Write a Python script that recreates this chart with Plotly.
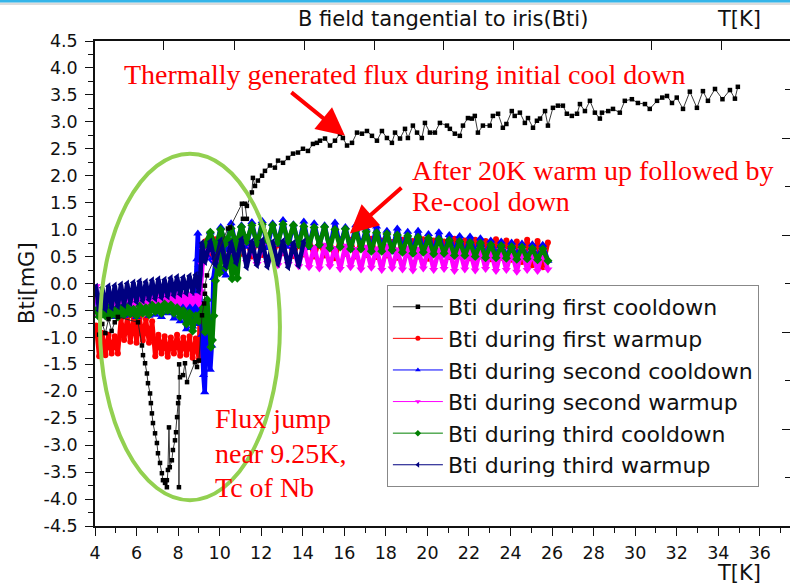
import plotly.graph_objects as go

# ---------------------------------------------------------------
# Temperature grids used by the dense bands (K)
# ---------------------------------------------------------------
T_lo = [4.05, 4.2, 4.35, 4.5, 4.65, 4.8, 4.95, 5.1, 5.25, 5.4,
        5.55, 5.7, 5.85, 6.0, 6.15, 6.3, 6.45, 6.6, 6.75, 6.9,
        7.05, 7.2, 7.35, 7.5, 7.65, 7.8, 7.95, 8.1, 8.25, 8.4,
        8.55, 8.7, 8.85, 9.0]

T_hi = [9.3, 9.55, 9.8, 10.05, 10.3, 10.55, 10.8, 11.05, 11.3, 11.55,
        11.8, 12.05, 12.3, 12.55, 12.8, 13.05, 13.3, 13.55, 13.8, 14.05,
        14.3, 14.55, 14.8, 15.05, 15.3, 15.55, 15.8, 16.05, 16.3, 16.55,
        16.8, 17.05, 17.3, 17.55, 17.8, 18.05, 18.3, 18.55, 18.8, 19.05,
        19.3, 19.55, 19.8, 20.05, 20.3, 20.55, 20.8, 21.05, 21.3, 21.55,
        21.8, 22.05, 22.3, 22.55, 22.8, 23.05, 23.3, 23.55, 23.8, 24.05,
        24.3, 24.55, 24.8, 25.05, 25.3, 25.55, 25.8]

# ---------------------------------------------------------------
# Bti during first cooldown (T decreasing), mG
# ---------------------------------------------------------------
T_cd1 = [34.94, 34.8, 34.56, 34.2, 33.84, 33.5, 33.26, 32.97, 32.63, 32.3,
         32.0, 31.77, 31.53, 31.3, 31.05, 30.7, 30.47, 30.13, 29.84, 29.5,
         29.26, 28.93, 28.7, 28.4, 28.3, 28.06, 27.82, 27.58, 27.34, 27.2,
         26.95, 26.71, 26.52, 26.28, 26.04, 25.8, 25.66, 25.42, 25.27, 25.08,
         24.84, 24.69, 24.45, 24.2, 24.06, 23.8, 23.63, 23.4, 23.15, 23.0,
         22.67, 22.43, 22.28, 22.14, 21.95, 21.71, 21.56, 21.32, 21.08, 20.94,
         20.6, 20.36, 20.12, 19.88, 19.73, 19.5, 19.3, 19.06, 18.92, 18.68,
         18.44, 18.29, 18.05, 17.81, 17.57, 17.33, 17.09, 16.85, 16.61, 16.37,
         16.13, 15.93, 15.79, 15.55, 15.31, 15.07, 14.83, 14.68, 14.49, 14.25,
         14.01, 13.77, 13.53, 13.29, 13.05, 12.81, 12.66, 12.42, 12.18, 12.04,
         11.84, 11.7, 11.6, 11.55, 11.31, 11.22, 11.31, 11.12, 11.07, 10.5,
         10.4, 9.39, 9.29, 9.29, 9.25, 9.15, 9.0, 8.91, 8.81, 8.43,
         8.33, 8.24, 8.09, 8.05, 8.04, 8.04, 8.0, 7.95, 7.9, 7.85,
         7.75, 7.7, 7.6, 7.56, 7.51, 7.46, 7.46, 7.37, 7.27, 7.22,
         7.13, 7.03, 6.98, 6.89, 6.79, 6.74, 6.69, 6.65, 6.55, 6.5,
         6.41, 6.31, 6.26, 6.07, 5.1, 4.95, 4.8, 4.65, 4.5, 4.35,
         4.2]
B_cd1 = [3.65, 3.43, 3.59, 3.42, 3.61, 3.39, 3.57, 3.26, 3.56, 3.24,
         3.45, 3.35, 3.48, 3.45, 3.39, 3.24, 3.33, 3.35, 3.42, 3.39,
         3.17, 3.24, 3.20, 3.17, 3.06, 3.17, 3.39, 3.20, 3.33, 3.15,
         3.11, 3.15, 3.30, 3.30, 3.26, 2.93, 3.20, 3.06, 3.02, 2.89,
         3.07, 2.98, 3.17, 3.11, 3.20, 2.96, 2.89, 3.15, 3.11, 2.93,
         2.93, 2.80, 3.11, 3.06, 3.07, 2.93, 2.74, 2.78, 2.87, 2.93,
         2.98, 2.80, 2.80, 2.98, 2.70, 2.80, 2.93, 2.70, 2.87, 2.69,
         2.80, 2.61, 2.70, 2.83, 2.65, 2.74, 2.83, 2.78, 2.80, 2.61,
         2.56, 2.70, 2.78, 2.65, 2.56, 2.69, 2.65, 2.61, 2.59, 2.46,
         2.50, 2.43, 2.41, 2.33, 2.24, 2.28, 2.15, 2.19, 2.09, 2.00,
         1.91, 1.81, 1.96, 1.69, 1.44, 1.48, 1.20, 1.20, 1.48, 1.04,
         1.02, 0.15, -0.04, -0.19, -0.37, -0.59, -1.43, -1.55, -1.46, -1.83,
         -1.48, -1.70, -1.74, -1.50, -3.78, -2.11, -2.22, -2.48, -2.76, -2.91,
         -3.09, -3.28, -3.41, -2.67, -3.46, -3.65, -3.78, -3.70, -3.65, -3.52,
         -3.33, -3.15, -2.96, -2.78, -2.59, -2.41, -2.22, -2.04, -1.85, -1.67,
         -1.48, -1.33, -1.15, -0.72, -0.62, -0.72, -0.88, -0.66, -0.92, -0.75,
         -0.95]

# ---------------------------------------------------------------
# Bti during first warmup (on T_lo / T_hi)
# ---------------------------------------------------------------
B_wu1_lo = [-0.78, -1.35, -0.92, -1.33, -0.95, -1.30, -0.98, -1.30, -0.65, -1.05,
            -0.63, -1.08, -0.62, -1.10, -0.64, -1.06, -0.66, -1.10, -0.70, -1.35,
            -0.95, -1.30, -0.98, -1.36, -1.00, -1.30, -0.95, -1.34, -1.00, -1.32,
            -0.98, -1.38, -1.02, -1.42]
T_wu1_jump = [9.1]
B_wu1_jump = [0.70]
B_wu1_hi = [0.78, 0.50, 0.82, 0.52, 0.80, 0.48, 0.83, 0.55, 0.79, 0.50,
            0.81, 0.53, 0.84, 0.49, 0.80, 0.56, 0.82, 0.51, 0.78, 0.54,
            0.83, 0.50, 0.80, 0.52, 0.79, 0.47, 0.82, 0.55, 0.81, 0.50,
            0.78, 0.53, 0.83, 0.49, 0.80, 0.52, 0.77, 0.48, 0.81, 0.54,
            0.79, 0.50, 0.82, 0.46, 0.80, 0.51, 0.78, 0.49, 0.83, 0.52,
            0.80, 0.47, 0.81, 0.50, 0.79, 0.45, 0.82, 0.48, 0.80, 0.44,
            0.78, 0.40, 0.81, 0.34, 0.79, 0.30, 0.76]

# ---------------------------------------------------------------
# Bti during second cooldown
# ---------------------------------------------------------------
B_cd2_lo = [-0.20, -0.60, -0.25, -0.58, -0.22, -0.62, -0.28, -0.55, -0.25, -0.60,
            -0.22, -0.58, -0.20, -0.62, -0.18, -0.55, -0.20, -0.60, -0.15, -0.58,
            -0.18, -0.62, -0.12, -0.55, -0.15, -0.65, -0.10, -0.70, -0.25, -0.85,
            -0.30, -0.80, -0.20, -0.75]
T_cd2_jump = [10.3, 10.15, 10.0, 9.85, 9.7, 9.62, 9.55, 9.48, 9.4, 9.33,
              9.28, 9.22, 9.15, 9.08, 9.0, 8.95, 8.9, 8.85]
B_cd2_jump = [0.15, 0.25, 0.20, 0.55, 0.10, -1.15, -1.60, -1.05, -0.30, -1.45,
              -2.02, -1.70, -0.95, -0.60, 0.35, 0.93, 0.45, -0.05]
B_cd2_hi = [0.55, 0.95, 0.60, 1.05, 0.62, 1.12, 0.65, 1.08, 0.68, 1.14,
            0.70, 1.16, 0.66, 1.12, 0.72, 1.18, 0.68, 1.10, 0.70, 1.15,
            0.66, 1.12, 0.70, 1.08, 0.64, 1.13, 0.68, 1.05, 0.62, 1.08,
            0.65, 1.02, 0.60, 1.06, 0.63, 0.98, 0.58, 1.02, 0.60, 0.96,
            0.56, 0.98, 0.58, 0.92, 0.55, 0.95, 0.52, 0.90, 0.55, 0.88,
            0.50, 0.87, 0.52, 0.84, 0.48, 0.80, 0.50, 0.78, 0.46, 0.76,
            0.48, 0.74, 0.45, 0.73, 0.44, 0.72, 0.42]

# ---------------------------------------------------------------
# Bti during second warmup
# ---------------------------------------------------------------
B_wu2_lo = [-0.05, -0.62, -0.25, -0.55, -0.30, -0.55, -0.32, -0.52, -0.34, -0.50,
            -0.30, -0.50, -0.30, -0.48, -0.28, -0.48, -0.26, -0.46, -0.26, -0.44,
            -0.22, -0.42, -0.22, -0.40, -0.20, -0.38, -0.18, -0.36, -0.18, -0.38,
            -0.20, -0.36, -0.22, -0.38]
T_wu2_jump = [9.08, 9.15, 9.22]
B_wu2_jump = [-0.15, 0.35, 0.62]
B_wu2_hi = [0.45, 0.70, 0.40, 0.72, 0.42, 0.68, 0.38, 0.70, 0.40, 0.66,
            0.36, 0.70, 0.38, 0.68, 0.34, 0.72, 0.36, 0.66, 0.32, 0.70,
            0.30, 0.68, 0.28, 0.72, 0.32, 0.66, 0.27, 0.70, 0.30, 0.64,
            0.26, 0.68, 0.29, 0.65, 0.25, 0.70, 0.28, 0.63, 0.26, 0.67,
            0.24, 0.64, 0.28, 0.66, 0.25, 0.62, 0.27, 0.65, 0.23, 0.63,
            0.26, 0.60, 0.24, 0.64, 0.27, 0.61, 0.23, 0.62, 0.25, 0.60,
            0.22, 0.62, 0.25, 0.58, 0.23, 0.60, 0.26]

# ---------------------------------------------------------------
# Bti during third cooldown
# ---------------------------------------------------------------
B_cd3_lo = [-0.50, -0.62, -0.48, -0.60, -0.45, -0.58, -0.50, -0.62, -0.46, -0.58,
            -0.44, -0.56, -0.48, -0.60, -0.42, -0.55, -0.45, -0.58, -0.40, -0.52,
            -0.42, -0.55, -0.38, -0.50, -0.40, -0.55, -0.45, -0.62, -0.50, -0.75,
            -0.55, -0.88, -0.60, -0.70]
T_cd3_jump = [11.0, 10.85, 10.7, 10.6, 10.45, 10.3, 10.15, 10.0, 9.9, 9.8,
              9.72, 9.65, 9.58, 9.5, 9.4, 9.3, 9.2, 9.1]
B_cd3_jump = [0.85, 0.10, 0.65, 0.09, 0.50, 0.30, 0.70, 0.20, 0.30, 0.05,
              -0.60, -1.05, -1.18, -0.80, -0.30, -0.90, -0.45, -0.55]
B_cd3_hi = [0.72, 0.95, 0.66, 1.00, 0.75, 1.02, 0.72, 1.05, 0.78, 1.08,
            0.74, 1.10, 0.80, 1.08, 0.76, 1.10, 0.78, 1.08, 0.72, 1.06,
            0.70, 1.04, 0.72, 1.05, 0.66, 1.00, 0.68, 1.01, 0.64, 0.98,
            0.64, 0.96, 0.60, 0.94, 0.60, 0.92, 0.62, 0.90, 0.58, 0.88,
            0.56, 0.86, 0.58, 0.84, 0.55, 0.82, 0.56, 0.80, 0.52, 0.78,
            0.52, 0.76, 0.50, 0.75, 0.48, 0.72, 0.48, 0.70, 0.47, 0.68,
            0.45, 0.67, 0.46, 0.65, 0.44, 0.64, 0.42]

# ---------------------------------------------------------------
# Bti during third warmup (stops near 14 K)
# ---------------------------------------------------------------
B_wu3_lo = [-0.06, -0.50, -0.08, -0.48, -0.05, -0.45, -0.04, -0.42, -0.02, -0.40,
            0.00, -0.36, 0.02, -0.34, 0.04, -0.32, 0.03, -0.30, 0.06, -0.28,
            0.08, -0.26, 0.07, -0.24, 0.10, -0.22, 0.12, -0.20, 0.11, -0.18,
            0.14, -0.16, 0.16, -0.15]
T_wu3_jump = [9.08, 9.15]
B_wu3_jump = [0.20, 0.75]
B_wu3_hi = [0.40, 0.78, 0.35, 0.80, 0.32, 0.76, 0.38, 0.82, 0.30, 0.78,
            0.34, 0.80, 0.31, 0.77, 0.36, 0.79, 0.30, 0.75, 0.33, 0.78]

series_names = ["Bti during first cooldown", "Bti during first warmup",
                "Bti during second cooldown", "Bti during second warmup",
                "Bti during third cooldown", "Bti during third warmup"]

y_tickvals = [-4.5, -4.0, -3.5, -3.0, -2.5, -2.0, -1.5, -1.0, -0.5, 0.0,
              0.5, 1.0, 1.5, 2.0, 2.5, 3.0, 3.5, 4.0, 4.5]
y_ticktext = ["-4.5", "-4.0", "-3.5", "-3.0", "-2.5", "-2.0", "-1.5", "-1.0", "-0.5", "0.0",
              "0.5", "1.0", "1.5", "2.0", "2.5", "3.0", "3.5", "4.0", "4.5"]
top_tickvals = [7.32, 10.69, 14.06, 17.43, 20.75, 24.12, 30.80, 34.17]
right_major = [2.7, 0.9, -0.9, -2.7]
right_minor = [3.6, 1.8, 0.0, -1.8, -3.6]


def warmup(lo, tj, bj, hi):
    x = T_lo + tj + T_hi[:len(hi)]
    y = lo + bj + hi
    return x, y


def cooldown(lo, tj, bj, hi):
    x = T_hi[:len(hi)][::-1] + tj + T_lo[::-1]
    y = hi[::-1] + bj + lo[::-1]
    return x, y


fig = go.Figure()

AX = "#111111"


def band(x, y, name, color, symbol, size, rank):
    # dense data band: heavy connecting line so the logged points read as a ribbon
    fig.add_trace(go.Scatter(
        x=x, y=y, name=name, mode="lines+markers", showlegend=False,
        line=dict(color=color, width=4.5),
        marker=dict(color=color, symbol=symbol, size=size, line=dict(width=0)),
        hoverinfo="skip"))
    # thin legend entry
    fig.add_trace(go.Scatter(
        x=[None], y=[None], name=name, mode="lines+markers", legendrank=rank,
        line=dict(color=color, width=1),
        marker=dict(color=color, symbol=symbol, size=5, line=dict(width=0)),
        hoverinfo="skip"))


band(*warmup(B_wu1_lo, T_wu1_jump, B_wu1_jump, B_wu1_hi), series_names[1], "#ff0000", "circle", 6, 2)
band(*cooldown(B_cd2_lo, T_cd2_jump, B_cd2_jump, B_cd2_hi), series_names[2], "#0000ff", "triangle-up", 8, 3)
band(*warmup(B_wu2_lo, T_wu2_jump, B_wu2_jump, B_wu2_hi), series_names[3], "#ff00ff", "triangle-down", 8, 4)
band(*cooldown(B_cd3_lo, T_cd3_jump, B_cd3_jump, B_cd3_hi), series_names[4], "#008000", "diamond", 7, 5)
band(*warmup(B_wu3_lo, T_wu3_jump, B_wu3_jump, B_wu3_hi), series_names[5], "#000080", "triangle-left", 7, 6)

fig.add_trace(go.Scatter(
    x=T_cd1, y=B_cd1, name=series_names[0], mode="lines+markers", legendrank=1,
    line=dict(color="#222222", width=0.9),
    marker=dict(color="#000000", symbol="square", size=4.5, line=dict(width=0)),
    hoverinfo="skip"))

# carrier for the top / right frame axes
fig.add_trace(go.Scatter(x=[], y=[], xaxis="x2", yaxis="y2", showlegend=False, hoverinfo="skip"))

X_RANGE = [4, 37.45]
Y_RANGE = [-4.5, 4.5]
TICKFONT = dict(family="DejaVu Sans", size=17.5, color=AX)

fig.update_layout(
    width=790, height=584,
    margin=dict(l=95, r=0, t=41, b=58),
    paper_bgcolor="white", plot_bgcolor="white",
    font=dict(family="DejaVu Sans", size=17, color=AX),
    showlegend=True,
    legend=dict(x=0.42, y=0.497, xanchor="left", yanchor="top",
                bgcolor="white", bordercolor="#888888", borderwidth=1,
                font=dict(family="DejaVu Sans", size=22, color=AX),
                itemwidth=50, traceorder="normal", tracegroupgap=0),
    xaxis=dict(range=X_RANGE, showline=True, linecolor=AX, linewidth=1.5,
               ticks="outside", ticklen=8, tickwidth=1.3, tickcolor=AX,
               tick0=4, dtick=2, ticklabelstandoff=2, tickfont=TICKFONT,
               minor=dict(tickmode="linear", tick0=5, dtick=2, ticks="outside",
                          ticklen=5, tickwidth=1.3, tickcolor=AX),
               showgrid=False, zeroline=False),
    yaxis=dict(range=Y_RANGE, showline=True, linecolor=AX, linewidth=1.5,
               ticks="outside", ticklen=8, tickwidth=1.3, tickcolor=AX,
               tickmode="array", tickvals=y_tickvals, ticktext=y_ticktext,
               ticklabelstandoff=4, tickfont=TICKFONT,
               minor=dict(tickmode="linear", tick0=-4.25, dtick=0.5, ticks="outside",
                          ticklen=5, tickwidth=1.3, tickcolor=AX),
               showgrid=False, zeroline=False),
    xaxis2=dict(range=X_RANGE, overlaying="x", side="top", anchor="y2",
                showline=True, linecolor=AX, linewidth=1.5,
                ticks="inside", ticklen=9, tickwidth=1.3, tickcolor=AX,
                tickmode="array", tickvals=top_tickvals, showticklabels=False,
                showgrid=False, zeroline=False),
    yaxis2=dict(range=Y_RANGE, overlaying="y", side="right", anchor="x2",
                showline=False, ticks="inside", ticklen=8, tickwidth=1.3, tickcolor=AX,
                tickmode="array", tickvals=right_major, showticklabels=False,
                minor=dict(tickmode="array", tickvals=right_minor, ticks="inside",
                           ticklen=5, tickwidth=1.3, tickcolor=AX),
                showgrid=False, zeroline=False),
)


# pixel helpers for placing page furniture
def px_x(p):
    return (p - 95) / 695.0


def px_y(p):
    return (526 - p) / 485.0


# slide accent line along the top edge
fig.add_shape(type="rect", xref="paper", yref="paper",
              x0=px_x(0), x1=px_x(790), y0=px_y(5), y1=px_y(2.5),
              fillcolor="#dcdcdc", line=dict(width=0), layer="below")
fig.add_shape(type="rect", xref="paper", yref="paper",
              x0=px_x(0), x1=px_x(790), y0=px_y(2.5), y1=px_y(0),
              fillcolor="#35b5e9", line=dict(width=0), layer="below")

# highlight ellipse around the flux-jump region
fig.add_shape(type="circle", xref="x", yref="y",
              x0=4.24, x1=12.9, y0=-4.02, y1=2.41,
              line=dict(color="#92d050", width=4), layer="above")

black_texts = [
    dict(text="B field tangential to iris(Bti)", x=px_x(443), y=px_y(19), xanchor="center", size=21),
    dict(text="T[K]", x=px_x(715), y=px_y(19), xanchor="left", size=21),
    dict(text="T[K]", x=px_x(715), y=px_y(573), xanchor="left", size=21),
]
for t in black_texts:
    fig.add_annotation(text=t["text"], x=t["x"], y=t["y"], xref="paper", yref="paper",
                       xanchor=t["xanchor"], yanchor="middle", showarrow=False,
                       font=dict(family="DejaVu Sans", size=t["size"], color=AX))

fig.add_annotation(text="Bti[mG]", x=px_x(27), y=px_y(283), xref="paper", yref="paper",
                   textangle=-90, showarrow=False, xanchor="center", yanchor="middle",
                   font=dict(family="DejaVu Sans", size=21, color=AX))

red_texts = [
    ("Thermally generated flux during initial cool down", 122, 74),
    ("After 20K warm up followed by", 410, 170),
    ("Re-cool down", 410, 201),
    ("Flux jump", 213, 418),
    ("near 9.25K,", 213, 453),
    ("Tc of Nb", 213, 487),
]
for txt, px, py in red_texts:
    fig.add_annotation(text=txt, x=px_x(px), y=px_y(py), xref="paper", yref="paper",
                       xanchor="left", yanchor="middle", showarrow=False,
                       font=dict(family="Liberation Serif", size=28, color="#ff0000"))

# pointer arrows
arrows = [((16.03, 2.74), (13.38, 3.57)), ((16.27, 0.93), (18.82, 1.80))]
for (hx, hy), (tx, ty) in arrows:
    fig.add_annotation(x=hx, y=hy, ax=tx, ay=ty, xref="x", yref="y", axref="x", ayref="y",
                       text="", showarrow=True, arrowhead=2, arrowsize=1.4,
                       arrowwidth=4, arrowcolor="#ff0000", standoff=0)

fig.write_html("out.html")
